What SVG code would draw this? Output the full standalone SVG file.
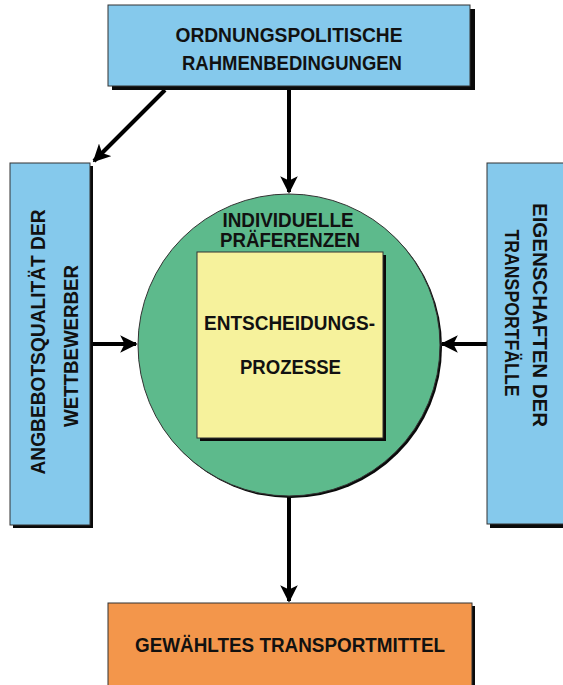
<svg xmlns="http://www.w3.org/2000/svg" width="563" height="685" viewBox="0 0 563 685">
<defs>
<style>
.t{font-family:"Liberation Sans",Arial,sans-serif;font-weight:bold;font-size:20px;fill:#111;text-anchor:middle}
.blue{fill:#85c9ec;stroke:#333;stroke-width:1}
.sh{fill:#0a0a0a}
.con{stroke:#000;stroke-width:4;fill:none}
</style>
<marker id="ah" viewBox="0 0 10 10" refX="9" refY="5" markerWidth="4.4" markerHeight="4.4" orient="auto" markerUnits="strokeWidth">
<path d="M0,0 L10,5 L0,10 L2.5,5 Z" fill="#000"/>
</marker>
</defs>
<rect width="563" height="685" fill="#ffffff"/>

<g id="connectors">
<line class="con" x1="289" y1="88" x2="289" y2="192" marker-end="url(#ah)"/>
<line class="con" x1="165" y1="90" x2="94" y2="161" marker-end="url(#ah)"/>
<line class="con" x1="93" y1="344" x2="136" y2="344" marker-end="url(#ah)"/>
<line class="con" x1="487" y1="344" x2="442" y2="344" marker-end="url(#ah)"/>
<line class="con" x1="289" y1="497" x2="289" y2="601" marker-end="url(#ah)"/>
</g>

<g id="top">
<rect class="sh" x="112" y="9" width="363" height="81"/>
<rect class="blue" x="108" y="5" width="362" height="81"/>
<text class="t" x="289" y="41.5" textLength="227" lengthAdjust="spacingAndGlyphs">ORDNUNGSPOLITISCHE</text>
<text class="t" x="292" y="69.5" textLength="220" lengthAdjust="spacingAndGlyphs">RAHMENBEDINGUNGEN</text>
</g>

<g id="left">
<rect class="sh" x="13" y="166" width="80" height="362"/>
<rect class="blue" x="10" y="163" width="80" height="362"/>
<text class="t" transform="translate(45,342) rotate(-90)" textLength="265" lengthAdjust="spacingAndGlyphs">ANGBEBOTSQUALITÄT DER</text>
<text class="t" transform="translate(78,346) rotate(-90)" textLength="162" lengthAdjust="spacingAndGlyphs">WETTBEWERBER</text>
</g>

<g id="right">
<rect class="sh" x="490" y="166" width="90" height="362"/>
<rect class="blue" x="487" y="163" width="90" height="361"/>
<text class="t" transform="translate(533,315) rotate(90)" textLength="224" lengthAdjust="spacingAndGlyphs">EIGENSCHAFTEN DER</text>
<text class="t" transform="translate(505,313) rotate(90)" textLength="167" lengthAdjust="spacingAndGlyphs">TRANSPORTFÄLLE</text>
</g>

<g id="circle">
<circle cx="291" cy="347" r="151" fill="#0a0a0a"/>
<circle cx="289" cy="345" r="151" fill="#5dba8c" stroke="#333" stroke-width="1"/>
<text class="t" x="288" y="227" textLength="131" lengthAdjust="spacingAndGlyphs">INDIVIDUELLE</text>
<text class="t" x="290" y="247" textLength="140" lengthAdjust="spacingAndGlyphs">PRÄFERENZEN</text>
</g>

<g id="square">
<rect class="sh" x="200" y="255" width="186" height="186"/>
<rect x="197" y="252" width="186" height="186" fill="#f6f29c" stroke="#333" stroke-width="1"/>
<text class="t" x="289.5" y="330" textLength="171" lengthAdjust="spacingAndGlyphs">ENTSCHEIDUNGS-</text>
<text class="t" x="290.5" y="374" textLength="101" lengthAdjust="spacingAndGlyphs">PROZESSE</text>
</g>

<g id="bottom">
<rect class="sh" x="111" y="606" width="364" height="90"/>
<rect x="108" y="603" width="364" height="90" fill="#f3964b" stroke="#333" stroke-width="1"/>
<text class="t" x="290" y="652" textLength="310" lengthAdjust="spacingAndGlyphs">GEWÄHLTES TRANSPORTMITTEL</text>
</g>
</svg>
